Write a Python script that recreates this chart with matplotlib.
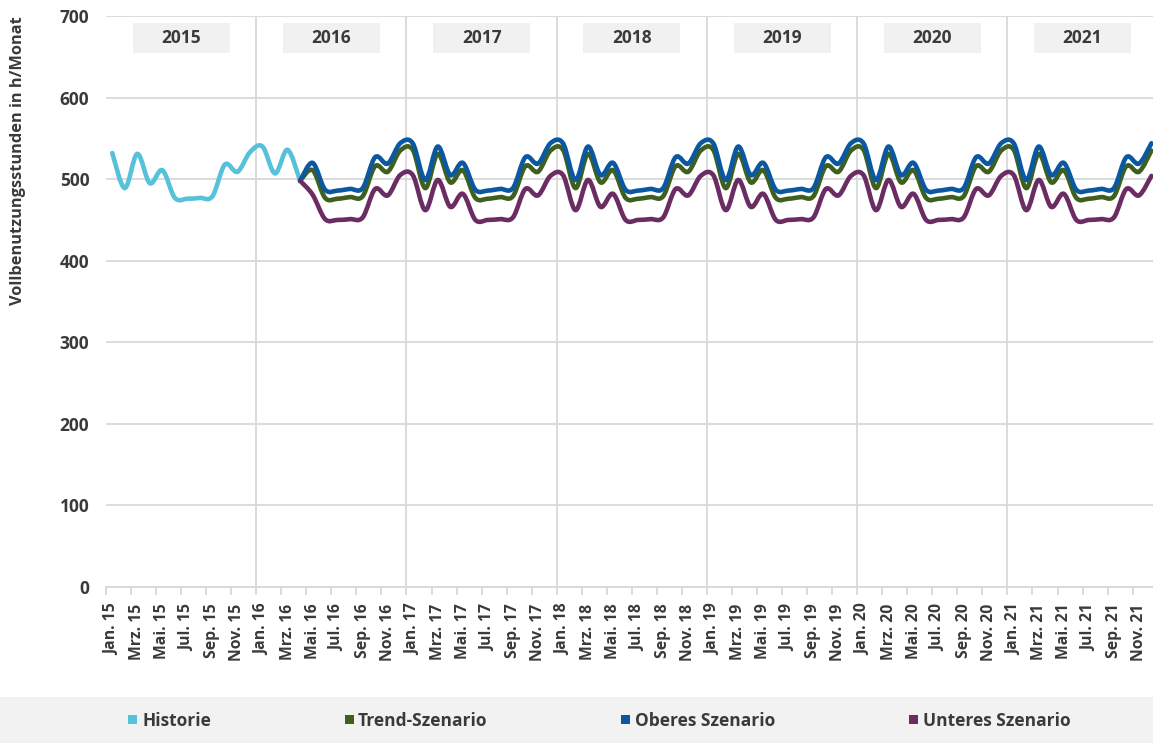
import numpy as np
import matplotlib.pyplot as plt
from matplotlib.path import Path
from matplotlib.patches import PathPatch, Rectangle

plt.rcParams['font.family'] = ['Open Sans', 'DejaVu Sans']

# Monthly values, Jan 2015 .. Dec 2021 (84 months)
years = [2015, 2016, 2017, 2018, 2019, 2020, 2021]
months = ['Jan.', 'Feb.', 'Mrz.', 'Apr.', 'Mai.', 'Jun.', 'Jul.', 'Aug.', 'Sep.', 'Okt.', 'Nov.', 'Dez.']

# Historie: Jan 15 .. Apr 16
historie = [532, 489, 531, 495, 511, 477, 476, 477, 479, 518, 509, 533,
            540, 507, 536, 498]

# Scenarios: Apr 16 .. Dec 21
trend = [498, 511, 477, 476, 478, 479, 516, 509, 535,                 # 2016
         536, 489, 531, 496, 511, 477, 476, 478, 479, 516, 509, 535,  # 2017
         536, 489, 531, 496, 511, 477, 476, 478, 479, 516, 509, 535,  # 2018
         536, 489, 531, 496, 511, 477, 476, 478, 479, 516, 509, 535,  # 2019
         536, 489, 531, 496, 511, 477, 476, 478, 479, 516, 509, 535,  # 2020
         536, 489, 531, 496, 511, 477, 476, 478, 479, 516, 509, 535]  # 2021
oberes = [498, 520, 487, 486, 488, 489, 527, 519, 544,
          544, 499, 540, 505, 520, 487, 486, 488, 489, 527, 519, 544,
          544, 499, 540, 505, 520, 487, 486, 488, 489, 527, 519, 544,
          544, 499, 540, 505, 520, 487, 486, 488, 489, 527, 519, 544,
          544, 499, 540, 505, 520, 487, 486, 488, 489, 527, 519, 544,
          544, 499, 540, 505, 520, 487, 486, 488, 489, 527, 519, 544]
unteres = [498, 481, 451, 450, 451, 453, 488, 480, 505,
           505, 462, 499, 466, 482, 450, 450, 451, 453, 488, 480, 504,
           505, 462, 499, 466, 482, 450, 450, 451, 453, 488, 480, 504,
           505, 462, 499, 466, 482, 450, 450, 451, 453, 488, 480, 504,
           505, 462, 499, 466, 482, 450, 450, 451, 453, 488, 480, 504,
           505, 462, 499, 466, 482, 450, 450, 451, 453, 488, 480, 504]

labels = [f'{m} {str(y)[2:]}' for y in years for m in months]
n = len(labels)
scen_start = len(historie) - 1

series = [
    ('Historie', historie, 0, '#56c1da'),
    ('Trend-Szenario', trend, scen_start, '#3f5f1e'),
    ('Oberes Szenario', oberes, scen_start, '#0b58a2'),
    ('Unteres Szenario', unteres, scen_start, '#6b2c64'),
]

grid_c = '#d9d9d9'
text_c = '#3a3a3a'


def smooth_path(xs, ys):
    # Catmull-Rom style bezier through the monthly points (like Excel's smoothed line)
    pts = np.column_stack([xs, ys]).astype(float)
    ext = np.vstack([pts[0], pts, pts[-1]])
    verts = [pts[0]]
    codes = [Path.MOVETO]
    for i in range(len(pts) - 1):
        p0, p1, p2, p3 = ext[i], ext[i + 1], ext[i + 2], ext[i + 3]
        verts += [p1 + (p2 - p0) / 6, p2 - (p3 - p1) / 6, p2]
        codes += [Path.CURVE4] * 3
    return Path(verts, codes)


fig = plt.figure(figsize=(11.53, 7.43), dpi=100)
ax = fig.add_axes([106 / 1153, 156 / 743, 1051.7 / 1153, 571 / 743])
ax.set_xlim(-0.5, n - 0.5)
ax.set_ylim(0, 700)

for name, vals, start, color in series:
    xs = np.arange(start, start + len(vals))
    ax.add_patch(PathPatch(smooth_path(xs, vals), facecolor='none', edgecolor=color,
                           lw=3.3, capstyle='round', joinstyle='round', zorder=3))

# grid
ax.set_yticks(range(0, 701, 100))
ax.yaxis.grid(True, color=grid_c, lw=1.3)
ax.set_axisbelow(True)
for s in ['top', 'right', 'left']:
    ax.spines[s].set_visible(False)
ax.spines['bottom'].set_color(grid_c)
ax.spines['bottom'].set_linewidth(1.3)
ax.tick_params(axis='y', length=0, pad=12, labelsize=12.5, labelcolor=text_c)
for t in ax.get_yticklabels():
    t.set_fontweight('bold')

# year separators
for k in range(1, len(years)):
    ax.axvline(12 * k - 0.5, color=grid_c, lw=1.3, zorder=1)

# x ticks: marks at boundaries every two months, labels at month centres
ax.set_xticks(np.arange(-0.5, n, 2))
ax.set_xticklabels([])
ax.tick_params(axis='x', which='major', length=6, width=1.3, color=grid_c)
ax.set_xticks(np.arange(0, n, 2), minor=True)
ax.set_xticklabels(labels[::2], minor=True, rotation=90, fontsize=11.3,
                   fontweight='bold', color=text_c)
ax.tick_params(axis='x', which='minor', length=0, pad=12)

# year boxes
for k, y in enumerate(years):
    cx = 12 * k + 5.5
    ax.add_patch(Rectangle((cx - 3.88, 655), 7.76, 37, facecolor='#f1f1f1',
                           edgecolor='none', zorder=2))
    ax.text(cx, 673.5, str(y), ha='center', va='center', fontsize=12.5,
            fontweight='bold', color=text_c, zorder=3)

fig.text(18 / 1153, 1 - 161 / 743, 'Vollbenutzungsstunden in h/Monat', rotation=90,
         ha='center', va='center', fontsize=11.8, fontweight='bold', color=text_c)

# legend band
fig.add_artist(Rectangle((0, 0), 1, 46 / 743, transform=fig.transFigure,
                         facecolor='#f2f2f2', edgecolor='none'))
sq_left = [128, 345, 621, 909]
txt_left = [143, 358, 635, 923]
for (name, vals, start, color), sx, tx in zip(series, sq_left, txt_left):
    fig.add_artist(Rectangle((sx / 1153, 1 - 724 / 743), 9 / 1153, 9 / 743,
                             transform=fig.transFigure, facecolor=color, edgecolor='none'))
    fig.text(tx / 1153, 1 - 720.5 / 743, name, ha='left', va='center', fontsize=12.5,
             fontweight='bold', color=text_c)

fig.savefig('out.png', dpi=100)
